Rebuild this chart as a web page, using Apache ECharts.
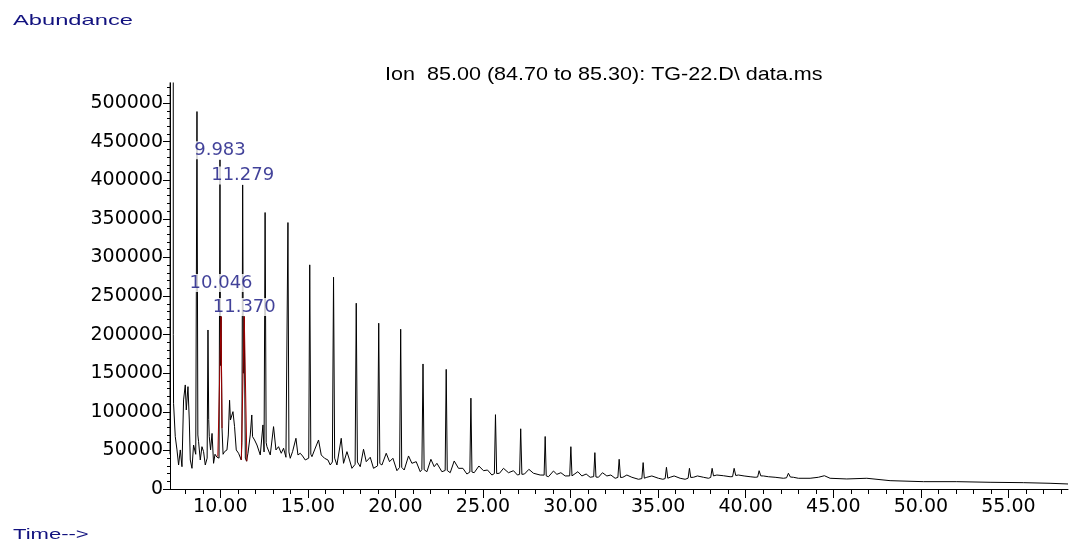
<!DOCTYPE html>
<html>
<head>
<meta charset="utf-8">
<script src="https://cdn.jsdelivr.net/npm/echarts@6/dist/echarts.min.js"></script>
<style>
html,body{margin:0;padding:0;background:#fff;}
#c{width:1069px;height:542px;}
</style>
</head>
<body>
<div id="c"></div>
<script>
// ---- Data ----
const ticTime = [
7.13,7.152,7.22,7.31,7.318,7.333,7.431,7.529,7.62,7.717,7.814,7.905,8.002,8.059,8.156,8.231,8.288,8.385,8.476,8.60,
8.67,8.72,8.761,8.858,8.955,9.047,9.144,9.25,9.298,9.34,9.372,9.446,9.53,9.618,9.70,9.812,9.93,9.983,10.015,10.046,
10.10,10.16,10.245,10.382,10.46,10.531,10.58,10.628,10.725,10.816,10.913,11.045,11.199,11.235,11.279,11.32,11.37,11.43,11.50,11.581,
11.712,11.80,11.844,11.958,12.095,12.283,12.437,12.50,12.56,12.62,12.666,12.854,13.042,13.179,13.328,13.482,13.613,13.75,13.81,13.864,
13.92,13.995,14.127,14.321,14.435,14.566,14.697,14.852,15.05,15.108,15.17,15.234,15.382,15.611,15.765,15.953,16.147,16.279,16.40,16.467,
16.53,16.661,16.906,17.038,17.232,17.38,17.517,17.70,17.763,17.83,17.991,18.179,18.333,18.562,18.75,18.98,19.047,19.11,19.23,19.475,
19.663,19.857,20.086,20.24,20.30,20.36,20.502,20.748,20.942,21.187,21.416,21.51,21.575,21.64,21.798,22.026,22.215,22.369,22.654,22.84,
22.90,22.96,23.128,23.356,23.602,23.853,24.081,24.25,24.309,24.37,24.498,24.766,25.029,25.257,25.508,25.65,25.713,25.78,25.942,26.17,
26.455,26.741,26.969,27.09,27.152,27.22,27.369,27.62,27.882,28.265,28.49,28.55,28.61,28.739,29.024,29.218,29.447,29.692,29.95,30.017,
30.08,30.166,30.417,30.645,30.89,31.119,31.32,31.387,31.45,31.592,31.821,32.072,32.30,32.546,32.70,32.774,32.85,32.985,33.213,33.499,
33.876,34.07,34.144,34.21,34.355,34.64,35.017,35.268,35.40,35.474,35.55,35.685,35.913,36.256,36.541,36.71,36.787,36.86,37.015,37.243,
37.586,37.871,38.00,38.082,38.16,38.351,38.727,39.11,39.25,39.338,39.43,39.583,39.909,40.251,40.537,40.68,40.765,40.86,41.01,41.296,
41.678,42.152,42.33,42.437,42.55,42.723,43.008,43.676,44.149,44.492,44.817,45.77,46.912,48.242,50.143,52.049,53.95,55.85,57.374,58.40
];
const ticAbundance = [
45000,1500000,2500000,1500000,200000,111000,67800,50600,31100,50600,28900,115400,134800,102400,132600,89400,37600,26800,57000,45000,
489000,70000,61300,37600,54800,48400,31100,40000,206000,90000,67800,50600,72000,33300,45000,41200,40000,426500,160000,223400,
78700,45000,48400,50600,70000,115000,89400,89400,100200,80800,50600,46300,37600,60000,394000,150000,223400,40000,36000,46300,
70000,95900,67800,63500,57000,44100,83000,48000,358200,60000,54800,44100,80800,50600,54800,46300,52800,41100,40000,345200,
48000,39800,48400,65700,44100,46300,42800,37600,40000,290400,45000,41900,50600,63500,44100,39800,37600,31100,35000,274400,
40000,31100,65700,33300,48400,37600,26800,32000,240700,35000,28900,51500,35400,41100,26800,30000,214800,33000,31100,46300,
35400,39800,23700,28000,207000,28000,24600,42800,33300,35400,22400,25000,162000,25000,22400,38500,28900,33300,22400,24000,
155000,24000,21100,36300,26800,26800,19400,22000,117700,22000,21100,29800,23700,24600,18100,20000,96300,20000,20400,26800,
21100,23700,18100,19000,78000,19000,19400,25500,20400,18100,18000,68000,17000,15900,23300,19000,21100,16900,17000,54800,
17000,16900,22400,16900,19400,15200,16000,47100,15500,15200,21100,16900,18100,13900,15000,38500,15000,15200,18100,15200,
12600,13500,34200,14000,15200,16900,13900,12600,13500,28100,14000,15200,16900,13900,12600,14000,26800,15000,15200,16900,
15200,13900,15000,26800,17000,18100,17200,15900,16000,26800,17500,18100,16900,15900,15200,15500,23700,17000,16900,15900,
15200,13900,14500,20400,15500,15200,13900,13900,15200,17200,13900,13000,13900,10800,9500,9500,8700,8200,7400,6500
];
// integrated (red) peaks; null breaks the line
const redTime      = [9.86, 10.046, 10.10, null, 11.20, 11.37, 11.52];
const redAbundance = [42000, 223400, 78700, null, 37600, 223400, 36000];
// labelled peaks
const peakLabels  = ['9.983', '11.279', '10.046', '11.370'];
const peakTimes   = [9.983, 11.279, 10.046, 11.370];
const peakHeights = [426500, 394000, 223400, 223400];
// axis ticks
const xTickValues = [10, 15, 20, 25, 30, 35, 40, 45, 50, 55];
const yTickValues = [0, 50000, 100000, 150000, 200000, 250000, 300000, 350000, 400000, 450000, 500000];

// ---- Chart ----
const xMinorTicks = [];
for (let t = 8; t <= 58; t++) xMinorTicks.push(t);
const yMinorTicks = [];
for (let v = 0; v <= 520000; v += 10000) yMinorTicks.push(v);

const labelGap = [0, 0, 24, 0];
const AXFONT = 'DejaVu Sans';
const NAVY = '#12127f';
const X_MIN = 7.13, X_MAX = 58.4, Y_MAX = 526000;

const ticData = ticTime.map((t, i) => [t, ticAbundance[i]]);
const redData = redTime.map((t, i) => (t === null ? [null, null] : [t, redAbundance[i]]));
const labelData = peakLabels.map((n, i) => ({
  name: n,
  value: [peakTimes[i], peakHeights[i]],
  label: { distance: labelGap[i] }
}));

const chart = echarts.init(document.getElementById('c'), null, { renderer: 'canvas' });
chart.setOption({
  animation: false,
  backgroundColor: '#ffffff',
  grid: { left: 170, right: 1, top: 83, bottom: 53, containLabel: false, outerBoundsMode: 'none' },
  xAxis: [
    {
      type: 'value', min: X_MIN, max: X_MAX, position: 'bottom',
      axisLine: { show: true, onZero: false, lineStyle: { color: '#000', width: 1 } },
      axisTick: { show: true, inside: false, length: 5, customValues: xMinorTicks, lineStyle: { color: '#000', width: 1 } },
      axisLabel: { show: false },
      splitLine: { show: false }
    },
    {
      type: 'value', min: X_MIN, max: X_MAX, position: 'bottom',
      axisLine: { show: false, onZero: false },
      axisTick: { show: true, inside: false, length: 9, customValues: xTickValues, lineStyle: { color: '#000', width: 1 } },
      axisLabel: {
        show: true, customValues: xTickValues, margin: 9,
        formatter: v => Number(v).toFixed(2),
        color: '#000', fontFamily: AXFONT, fontSize: 19
      },
      splitLine: { show: false }
    }
  ],
  yAxis: [
    {
      type: 'value', min: 0, max: Y_MAX, position: 'left',
      axisLine: { show: true, onZero: false, lineStyle: { color: '#000', width: 1 } },
      axisTick: { show: true, inside: false, length: 3, customValues: yMinorTicks, lineStyle: { color: '#000', width: 1 } },
      axisLabel: { show: false },
      splitLine: { show: false }
    },
    {
      type: 'value', min: 0, max: Y_MAX, position: 'left',
      axisLine: { show: false, onZero: false },
      axisTick: { show: true, inside: false, length: 7, customValues: yTickValues, lineStyle: { color: '#000', width: 1 } },
      axisLabel: {
        show: true, customValues: yTickValues, margin: 7,
        formatter: v => String(Math.round(v)),
        color: '#000', fontFamily: AXFONT, fontSize: 19
      },
      splitLine: { show: false }
    }
  ],
  series: [
    {
      type: 'line', xAxisIndex: 0, yAxisIndex: 0, data: ticData,
      showSymbol: false, symbol: 'none', clip: true, z: 2,
      lineStyle: { color: '#000000', width: 1 }
    },
    {
      type: 'line', xAxisIndex: 0, yAxisIndex: 0, data: redData,
      showSymbol: false, symbol: 'none', clip: true, connectNulls: false, z: 3,
      lineStyle: { color: '#a00000', width: 1 }
    },
    {
      type: 'scatter', xAxisIndex: 0, yAxisIndex: 0, data: labelData,
      symbolSize: 1, itemStyle: { color: 'rgba(0,0,0,0)' }, silent: true, z: 10,
      label: {
        show: true, position: 'top', formatter: p => p.name,
        color: NAVY, fontFamily: AXFONT, fontSize: 18,
        backgroundColor: '#ffffff', padding: [0, 1, 0, 1]
      }
    }
  ],
  graphic: [
    {
      type: 'text', x: 13, y: 20.5, scaleX: 1.58, z: 100,
      style: { text: 'Abundance', font: '15px "Liberation Sans", Arial, sans-serif', fill: NAVY,
               textAlign: 'left', textVerticalAlign: 'middle', verticalAlign: 'middle' }
    },
    {
      type: 'text', x: 385, y: 75, scaleX: 1.135, z: 100,
      style: { text: 'Ion  85.00 (84.70 to 85.30): TG-22.D\\ data.ms', font: '19px "Liberation Sans", Arial, sans-serif', fill: '#000',
               textAlign: 'left', textVerticalAlign: 'middle', verticalAlign: 'middle' }
    },
    {
      type: 'text', x: 13, y: 535, scaleX: 1.47, z: 100,
      style: { text: 'Time-->', font: '15px "Liberation Sans", Arial, sans-serif', fill: NAVY,
               textAlign: 'left', textVerticalAlign: 'middle', verticalAlign: 'middle' }
    }
  ]
});
</script>
</body>
</html>
